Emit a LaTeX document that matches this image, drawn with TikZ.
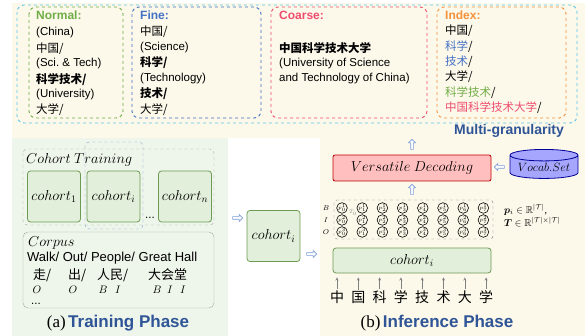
\documentclass[tikz,border=0pt]{standalone}
\usepackage{fontspec}
\usepackage{amsmath,amssymb,bm}
\setmainfont{Liberation Serif}
\setsansfont{Liberation Sans}
\newfontfamily\cjk{Noto Sans CJK SC}
\usetikzlibrary{positioning,shapes.geometric,shapes.arrows}
\definecolor{cream}{HTML}{FCF8EA}
\definecolor{lgreen}{HTML}{EEF5EA}
\definecolor{gcyan}{HTML}{5BC8E8}
\definecolor{ggreen}{HTML}{70AD47}
\definecolor{gblue}{HTML}{4472C4}
\definecolor{gred}{HTML}{EE4D6E}
\definecolor{gorange}{HTML}{F4913C}
\definecolor{dblue}{HTML}{2F5597}
\definecolor{cfill}{HTML}{E2EFDA}
\definecolor{cdraw}{HTML}{6E9B54}
\tikzset{
  txt/.style={anchor=west,inner sep=0pt,font=\fontsize{11.5}{12}\sffamily\selectfont},
  ttl/.style={txt,font=\fontsize{12}{12}\sffamily\bfseries\selectfont},
  frame/.style={dashed,line width=0.9pt,rounded corners=7pt},
  cohort/.style={draw=cdraw,fill=cfill,line width=0.8pt,rounded corners=3pt,
    minimum width=53pt,minimum height=51pt,font=\fontsize{14}{14}\selectfont},
  hollow/.style={single arrow,draw=gblue!70,fill=white,inner sep=1pt,line width=0.6pt,
    minimum height=10pt,single arrow head extend=2.2pt},
  tag/.style={circle,draw,inner sep=0pt,minimum size=10.5pt,line width=0.6pt,
    font=\fontsize{5}{5}\selectfont},
}
\begin{document}
\begin{tikzpicture}[x=1pt,y=-1pt]
  \useasboundingbox (0,0) rectangle (585,336);
  \fill[cream] (12,3) rectangle (585,138);
  \fill[lgreen] (12,138) rectangle (228,336);
  \fill[cream] (320,138) rectangle (585,336);
  % multi-granularity
  \draw[frame,gcyan] (17,5) rectangle (577,123);
  \draw[frame,ggreen] (29,7) rectangle (123,118);
  \draw[frame,gblue] (132,7) rectangle (261,118);
  \draw[frame,gred] (271,7) rectangle (427,118);
  \draw[frame,gorange] (437,7) rectangle (566,118);
  \node[ttl,ggreen] (normal) at (36,15) {Normal:};
  \node[ttl,gblue] (fine) at (140,15) {Fine:};
  \node[ttl,gred] (coarse) at (279,15) {Coarse:};
  \node[ttl,gorange] (index) at (445,15) {Index:};
  \foreach [count=\k] \t in {{(China)},{\cjk 中国/},{(Sci.\ \& Tech)},{\cjk\bfseries 科学技术/},{(University)},{\cjk 大学/}}
    \node[txt] (nm\k) at (36,17.5+15.4*\k) {\t};
  \foreach [count=\k] \t in {{\cjk 中国/},{(Science)},{\cjk\bfseries 科学/},{(Technology)},{\cjk\bfseries 技术/},{\cjk 大学/}}
    \node[txt] (fn\k) at (140,16.5+15.5*\k) {\t};
  \foreach [count=\k] \t in {{\cjk\bfseries 中国科学技术大学},{(University of Science},{and Technology of China)}}
    \node[txt] (cs\k) at (279,32.5+15.5*\k) {\t};
  \foreach [count=\k] \t in {{\cjk 中国/},{\cjk\textcolor{gblue}{科学}/},{\cjk\textcolor{gblue}{技术}/},
      {\cjk 大学/},{\cjk\textcolor{ggreen}{科学技术}/},{\cjk\textcolor{gred}{中国科学技术大学}/}}
    \node[txt] (ix\k) at (445,15.5+15.4*\k) {\t};
  \node[ttl,dblue,font=\fontsize{14}{14}\sffamily\bfseries\selectfont] (multi) at (454,131) {Multi-granularity};
  % training phase
  \draw[gray!70,dashed,rounded corners=4pt] (23,149) rectangle (214,225);
  \node[txt,font=\fontsize{13.5}{13.5}\selectfont] (ctrain) at (26,160) {$Cohort\ Training$};
  \node[cohort] (c1) at (54,196.5) {$cohort_1$};
  \node[cohort] (ci) at (113.5,196.5) {$cohort_i$};
  \node[cohort] (cn) at (185,196.5) {$cohort_n$};
  \node[txt,text height=1.5pt,text depth=0pt] (dots) at (145,218) {...};
  \draw[gblue!70,dashed,rounded corners=4pt] (85,142) rectangle (143,229);
  \draw[gray!70,rounded corners=5pt] (23,232) rectangle (214,308);
  \node[txt,font=\fontsize{13.5}{13.5}\selectfont] (corpus) at (28,243) {$Corpus$};
  \node[txt,font=\fontsize{13}{13}\sffamily\selectfont] (words) at (27,258.5) {Walk/ Out/ People/ Great Hall};
  \foreach \x/\t in {33/{走/},68/{出/},97/{人民/},148/{大会堂}}
    \node[txt,font=\fontsize{13}{13}\cjk\selectfont] (w\x) at (\x,275) {\t};
  \foreach \x/\t in {37/O,73/O,103/B,118/I,157/B,170/I,183/I}
    \node[inner sep=0pt,font=\fontsize{11}{11}\selectfont] (t\x) at (\x,290) {$\t$};
  \node[txt,text height=1.5pt,text depth=0pt] (more) at (31,303.5) {...};
  \node[inner sep=0pt] (phasea) at (118,323)
    {{\fontsize{17}{17}\selectfont (a)} {\fontsize{17}{17}\sffamily\bfseries\color{dblue}Training Phase}};
  % transfer
  \node[hollow] (h1) at (237,218) {};
  \node[cohort] (cm) at (273.5,236) {$cohort_i$};
  \node[hollow] (h2) at (311,254) {};
  % inference phase
  \node[hollow,rotate=90] (up1) at (412,145) {};
  \node[draw=red!75!black,fill=red!25,line width=0.8pt,rounded corners=2pt,minimum width=158pt,
    minimum height=26pt,font=\fontsize{14}{14}\selectfont] (vd) at (412,168) {$Versatile\ Decoding$};
  \node[cylinder,shape border rotate=90,aspect=0.22,draw=blue!60!black,fill=blue!35!white,line width=0.8pt,
    minimum width=68pt,minimum height=29pt,inner sep=0pt,font=\fontsize{13}{13}\selectfont] (vocab) at (544,167) {$Vocab.Set$};
  \node[hollow,rotate=180] (h3) at (500,167) {};
  \node[hollow,rotate=90] (up2) at (412,190) {};
  \draw[gray,dashed,rounded corners=3pt] (334,200) rectangle (493,239);
  \foreach [count=\r] \l in {B,I,O} {
    \node[inner sep=0pt,font=\fontsize{7.5}{7.5}\selectfont] (lab\l) at (326,196+12*\r) {$\l$};
    \foreach \c in {0,...,7}
      \node[tag] (p\r\c) at (342+20.2*\c,196+12*\r) {$p^{\r}_{\c}$};
  }
  \node[inner sep=0pt,font=\fontsize{5}{5}\selectfont,gray] (trans) at (353,213) {$T_0$};
  \node[txt,font=\fontsize{10}{10}\selectfont] (pdim) at (504,210) {$\bm{p}_i\in\mathbb{R}^{|\mathcal{T}|}$,};
  \node[txt,font=\fontsize{10}{10}\selectfont] (tdim) at (504,222) {$\bm{T}\in\mathbb{R}^{|\mathcal{T}|\times|\mathcal{T}|}$};
  \node[cohort,minimum width=158pt,minimum height=25pt] (cb) at (412,260.5) {$cohort_i$};
  \foreach [count=\c from 0] \t in {中,国,科,学,技,术,大,学} {
    \node[inner sep=0pt,font=\fontsize{14}{14}\cjk\selectfont] (ch\c) at (337+21.3*\c,297) {\t};
    \draw[-stealth,gray] (ch\c.north) ++(0,-1) -- ([yshift=-4pt]ch\c.north |- cb.south);
  }
  \node[inner sep=0pt] (phaseb) at (437,323)
    {{\fontsize{17}{17}\selectfont (b)} {\fontsize{17}{17}\sffamily\bfseries\color{dblue}Inference Phase}};
\end{tikzpicture}
\end{document}
